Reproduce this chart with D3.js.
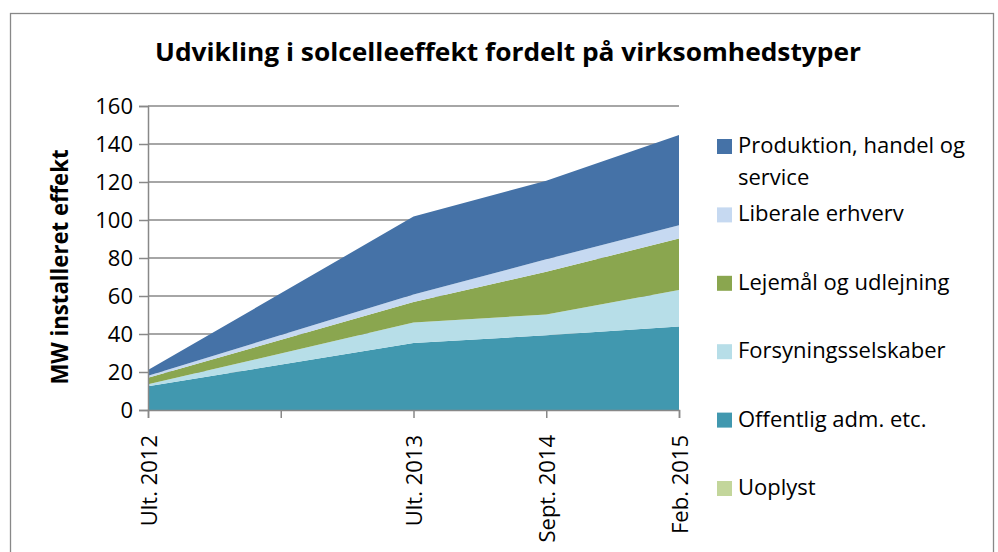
<!DOCTYPE html>
<html>
<head>
<meta charset="utf-8">
<script src="https://cdn.jsdelivr.net/npm/d3@7"></script>
<style>
  body { margin: 0; background: #fff; }
  text { font-family: "Open Sans", sans-serif; fill: #000; }
</style>
</head>
<body>
<script>
// categories (the second slot has no label and no data)
const categories = ["Ult. 2012", "", "Ult. 2013", "Sept. 2014", "Feb. 2015"];

// series, bottom of stack first
const uoplyst    = [0,    null, 0,    0,    0];
const offentlig  = [12.5, null, 35.3, 39.3, 44.0];
const forsyning  = [1.0,  null, 10.7, 11.0, 19.2];
const lejemaal   = [3.5,  null, 10.8, 22.5, 27.0];
const liberale   = [1.0,  null, 4.0,  6.5,  7.0];
const produktion = [3.0,  null, 41.0, 41.4, 47.5];

const seriesNames = ["Uoplyst", "Offentlig adm. etc.", "Forsyningsselskaber",
                     "Lejemål og udlejning", "Liberale erhverv", "Produktion, handel og service"];
const seriesValues = [uoplyst, offentlig, forsyning, lejemaal, liberale, produktion];
const colors = ["#C3D69B", "#4198AF", "#B7DEE8", "#8AA64F", "#C6D9F1", "#4572A7"];

const yTicks = [0, 20, 40, 60, 80, 100, 120, 140, 160];

const w = 998, h = 552;
const plotLeft = 148, plotRight = 679, plotTop = 106, plotBottom = 410;

const svg = d3.select("body").append("svg")
  .attr("width", w).attr("height", h);

// outer chart frame
svg.append("rect")
  .attr("x", 10.5).attr("y", 13.5).attr("width", 983).attr("height", 600)
  .attr("fill", "none").attr("stroke", "#888").attr("stroke-width", 1.3);

svg.append("text")
  .attr("x", 508).attr("y", 61)
  .attr("text-anchor", "middle")
  .attr("font-weight", "bold").attr("font-size", 25)
  .attr("textLength", 706).attr("lengthAdjust", "spacingAndGlyphs")
  .text("Udvikling i solcelleeffekt fordelt på virksomhedstyper");

const x = d3.scalePoint().domain(categories).range([plotLeft, plotRight]).padding(0);
const y = d3.scaleLinear().domain([0, 160]).range([plotBottom, plotTop]);

// gridlines
svg.append("g").selectAll("line").data(yTicks.slice(1)).enter().append("line")
  .attr("x1", plotLeft).attr("x2", plotRight)
  .attr("y1", d => y(d)).attr("y2", d => y(d))
  .attr("stroke", "#888").attr("stroke-width", 1.3);

// stacked areas, only the slots that hold data
const rows = categories.map((c, i) => {
  const r = { cat: c };
  seriesNames.forEach((s, j) => r[s] = seriesValues[j][i]);
  return r;
}).filter(r => r[seriesNames[0]] !== null);

const stacked = d3.stack().keys(seriesNames)(rows);

const area = d3.area()
  .x(d => x(d.data.cat))
  .y0(d => y(d[0]))
  .y1(d => y(d[1]));

svg.append("g").selectAll("path").data(stacked).enter().append("path")
  .attr("d", area)
  .attr("fill", (d, i) => colors[i]);

// y axis
const yAxis = d3.axisLeft(y).tickValues(yTicks).tickSize(9).tickPadding(6);
const gy = svg.append("g").attr("transform", "translate(" + plotLeft + ",0)").call(yAxis);
gy.selectAll("text").attr("font-size", 22).attr("font-family", "Open Sans").attr("fill", "#000");

// x axis
const xAxis = d3.axisBottom(x).tickSize(8).tickPadding(0);
const gx = svg.append("g").attr("transform", "translate(0," + plotBottom + ")").call(xAxis);
gx.selectAll("text")
  .attr("font-size", 22).attr("font-family", "Open Sans").attr("fill", "#000")
  .attr("text-anchor", "end").attr("y", 0).attr("dy", null)
  .attr("transform", "translate(8,25) rotate(-90)");

[gx, gy].forEach(g => {
  g.select(".domain").attr("stroke", "#888").attr("stroke-width", 1.5);
  g.selectAll(".tick line").attr("stroke", "#888").attr("stroke-width", 1.5);
});

// y axis title
svg.append("text")
  .attr("transform", "translate(68,267) rotate(-90)")
  .attr("text-anchor", "middle")
  .attr("font-weight", "bold").attr("font-size", 23)
  .attr("textLength", 235).attr("lengthAdjust", "spacingAndGlyphs")
  .text("MW installeret effekt");

// legend, top of stack first
const legendOrder = d3.range(seriesNames.length).reverse();
const legend = svg.append("g").selectAll("g").data(legendOrder).enter().append("g")
  .attr("transform", (d, i) => "translate(717," + (153 + i * 68.4) + ")");

legend.append("rect")
  .attr("x", 0).attr("y", -14).attr("width", 15).attr("height", 15)
  .attr("fill", d => colors[d]);

legend.append("text")
  .attr("x", 21).attr("y", 0)
  .attr("font-size", 22)
  .each(function(d) {
    const name = seriesNames[d];
    const t = d3.select(this);
    if (name.length > 22) {
      const cut = name.lastIndexOf(" ");
      t.append("tspan").attr("x", 21).attr("y", 0).text(name.slice(0, cut));
      t.append("tspan").attr("x", 21).attr("y", 32).text(name.slice(cut + 1));
    } else {
      t.text(name);
    }
  });
</script>
</body>
</html>
